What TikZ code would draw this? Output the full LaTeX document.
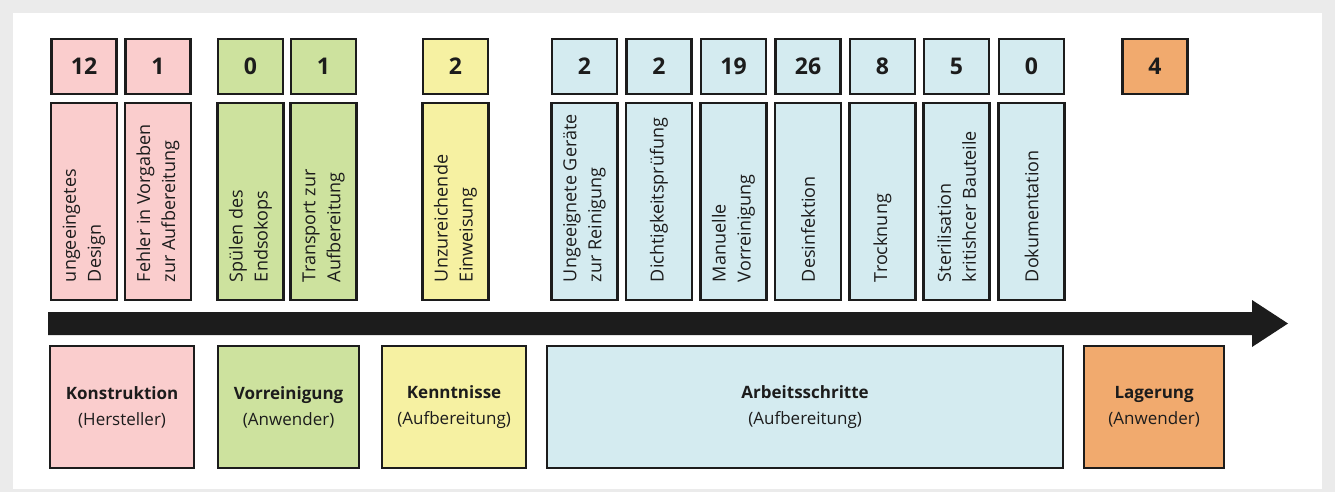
\documentclass[tikz,border=0pt]{standalone}
\usepackage{fontspec}
\setmainfont{Open Sans}

\definecolor{konpink}{RGB}{250,205,205}
\definecolor{vorgreen}{RGB}{205,226,158}
\definecolor{kenyellow}{RGB}{246,241,162}
\definecolor{arbblue}{RGB}{212,235,240}
\definecolor{lagorange}{RGB}{241,170,110}
\definecolor{framegray}{RGB}{235,235,235}
\definecolor{inkdark}{RGB}{28,28,28}

\begin{document}
\begin{tikzpicture}[x=1pt,y=-1pt,
    box/.style={draw=inkdark,line width=2.2pt,inner sep=0pt,anchor=north},
    numbox/.style={box,minimum width=65pt,minimum height=55pt},
    txtbox/.style={box,minimum width=66pt,minimum height=197pt},
    catbox/.style={box,anchor=north west,minimum height=122pt,align=center,
        font=\fontsize{17}{26}\selectfont,text=inkdark},
    numtext/.style={font=\fontsize{23}{24}\selectfont\bfseries,text=inkdark},
    vtext/.style={rotate=90,anchor=west,align=left,inner sep=0pt,
        font=\fontsize{18}{25}\selectfont,text=inkdark}]
    % frame
    \fill [framegray] (0,0) rectangle (1335,492);
    \fill [white] (13,13) rectangle (1322,489);
    % top row: counts and causes
    \foreach \name/\cx/\col/\num/\txt in {
        a/84/konpink/12/{ungeeingetes\\Design},
        b/158/konpink/1/{Fehler in Vorgaben\\zur Aufbereitung},
        c/250.5/vorgreen/0/{Spülen des\\Endsokops},
        d/323.5/vorgreen/1/{Transport zur\\Aufbereitung},
        e/455.5/kenyellow/2/{Unzureichende\\Einweisung},
        f/584.5/arbblue/2/{Ungeeignete Geräte\\zur Reinigung},
        g/659/arbblue/2/{Dichtigkeitsprüfung},
        h/733.5/arbblue/19/{Manuelle\\Vorreinigung},
        i/808/arbblue/26/{Desinfektion},
        j/882.5/arbblue/8/{Trocknung},
        k/956.5/arbblue/5/{Sterilisation\\kritishcer Bauteile},
        l/1031.5/arbblue/0/{Dokumentation}} {
        \node [numbox,fill=\col] (n\name) at (\cx,38) {};
        \node [numtext] at (n\name) {\num};
        \node [txtbox,fill=\col] (t\name) at (\cx,102) {};
        \node [vtext] at ([yshift=19pt]t\name.south) {\txt};
    }
    \node [numbox,fill=lagorange] (nm) at (1155,38) {};
    \node [numtext] at (nm) {4};
    % time arrow
    \fill [inkdark] (48,312) -- (1252,312) -- (1252,300) -- (1288,323.5)
        -- (1252,347) -- (1252,335) -- (48,335) -- cycle;
    % bottom row: categories
    \node [catbox,fill=konpink,minimum width=144pt] (kon) at (49,345)
        {\textbf{Konstruktion}\\(Hersteller)};
    \node [catbox,fill=vorgreen,minimum width=141pt] (vor) at (217,345)
        {\textbf{Vorreinigung}\\(Anwender)};
    \node [catbox,fill=kenyellow,minimum width=144pt] (ken) at (381,345)
        {\textbf{Kenntnisse}\\(Aufbereitung)};
    \node [catbox,fill=arbblue,minimum width=516pt] (arb) at (546,345)
        {\textbf{Arbeitsschritte}\\(Aufbereitung)};
    \node [catbox,fill=lagorange,minimum width=140pt] (lag) at (1083,345)
        {\textbf{Lagerung}\\(Anwender)};
\end{tikzpicture}
\end{document}
